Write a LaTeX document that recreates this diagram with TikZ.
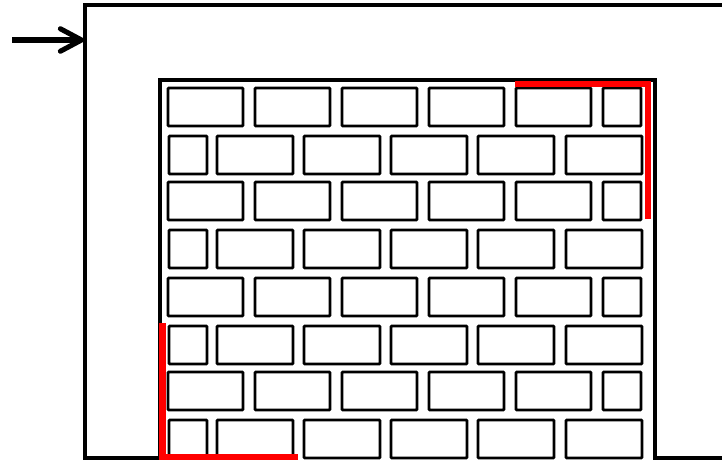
\documentclass[tikz,border=0pt]{standalone}
\usepackage{tikz}
\usetikzlibrary{arrows.meta}

\tikzset{
  wall/.style={line width=2.9pt,line join=miter},
  brick/.style={line width=1.8pt,rounded corners=0.4pt},
  seal/.style={red,line width=4.3pt},
}

\begin{document}
\begin{tikzpicture}[x=0.025cm,y=-0.025cm]
 \useasboundingbox (0,0) rectangle (722,461);
 % frame and opening
 \draw[wall] (722,5) -- (85,5) -- (85,458) -- (160,458) -- (160,80)
             -- (655,80) -- (655,458) -- (722,458);
 \coordinate (tail) at (12,40);
 \coordinate (entry) at (84,40);
 \draw[line width=3.6pt,-{Straight Barb[round,length=15pt,width=16pt]}] (tail) -- (entry);
 % bricks, long rows
 \foreach \y in {88,182,278,372}{
  \foreach \x in {168,255,342,429,516}
   \draw[brick] (\x,\y) rectangle ++(75,38);
  \draw[brick] (603,\y) rectangle (641,\y+38);
 }
 % bricks, rows with a half brick first
 \foreach \y in {136,230,326,420}{
  \draw[brick] (169,\y) rectangle (207,\y+38);
  \foreach \x in {217,304,391,478,566}
   \draw[brick] (\x,\y) rectangle ++(76,38);
 }
 % red edges
 \draw[seal] (515,84) -- (648,84) -- (648,219);
 \draw[seal] (162.5,323) -- (162.5,457) -- (298,457);
\end{tikzpicture}
\end{document}
